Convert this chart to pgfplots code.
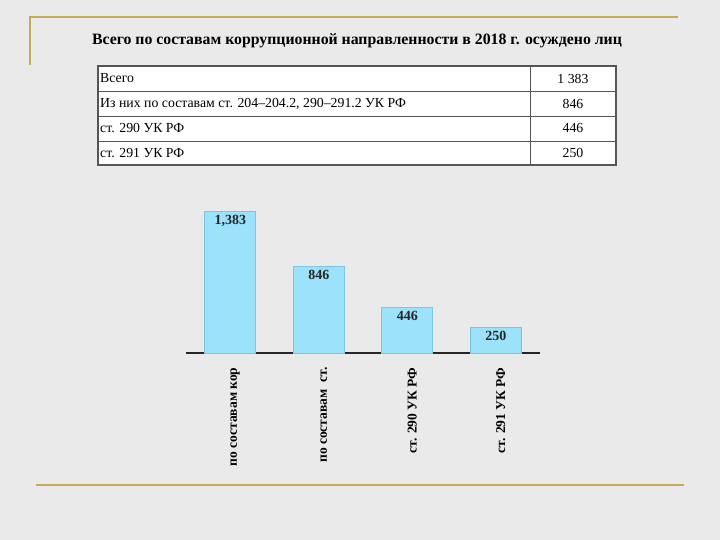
\documentclass[border=0pt]{standalone}
\usepackage{fontspec}
\setmainfont{Liberation Serif}
\usepackage{pgfplots}
\pgfplotsset{compat=1.18}
\definecolor{bg}{HTML}{EAEAEA}
\definecolor{gold}{HTML}{C9A95A}
\definecolor{barblue}{HTML}{9BE2FA}
\definecolor{baredge}{HTML}{7CC6E4}
\definecolor{tabline}{HTML}{555555}
\begin{document}
\begin{tikzpicture}[x=1pt,y=1pt]
\useasboundingbox (0,0) rectangle (720,540);
\fill[bg] (0,0) rectangle (720,540);
% gold decorative lines
\draw[gold, line width=2pt] (30,475) -- (30,523) -- (678,523);
\draw[gold, line width=2.2pt] (36,55) -- (684,55);
% title
\node[font=\bfseries\fontsize{15.8}{18}\selectfont, text=black] at (357,499)
  {Всего по составам коррупционной направленности в 2018 г. осуждено лиц};
% table
\fill[white] (98,375) rectangle (616,474);
\draw[tabline, line width=0.6pt] (98,449) -- (616,449) (98,424) -- (616,424) (98,399) -- (616,399) (530,375) -- (530,474);
\draw[tabline, line width=1.3pt] (98,375) rectangle (616,474);
\begin{scope}[every node/.style={font=\fontsize{13.8}{16}\selectfont, text=black, inner sep=0pt}]
\node[anchor=west] at (100,461.5) {Всего};
\node[anchor=west] at (100,436.5) {Из них по составам ст. 204–204.2, 290–291.2 УК РФ};
\node[anchor=west] at (100,411.5) {ст. 290 УК РФ};
\node[anchor=west] at (100,387) {ст. 291 УК РФ};
\node at (573,461.5) {1 383};
\node at (573,436.5) {846};
\node at (573,411.5) {446};
\node at (573,387) {250};
\end{scope}
% chart
\begin{axis}[
  at={(186pt,187pt)}, anchor=south west,
  scale only axis, width=354pt, height=153.3pt,
  xmin=-0.5, xmax=3.5, ymin=0, ymax=1500,
  axis x line*=bottom, axis y line=none,
  x axis line style={-, draw=black!85, line width=1.1pt},
  xtick={0,1,2,3},
  xticklabels={по составам кор, по составам \ ст., ст. 290 УК РФ, ст. 291 УК РФ},
  xtick style={draw=none},
  major tick length=0pt,
  xticklabel style={rotate=90, anchor=east, font=\bfseries\fontsize{13.5}{15}\selectfont, text=black, yshift=-5pt, xshift=-11pt},
  ybar, bar width=51pt,
  point meta=explicit symbolic,
  nodes near coords,
  every node near coord/.append style={anchor=north, font=\bfseries\fontsize{14}{16}\selectfont, text=black!85, yshift=0pt},
  clip=false,
]
\addplot[fill=barblue, draw=baredge, line width=0.6pt] coordinates {(0,1383)[1,383] (1,846)[846] (2,446)[446] (3,250)[250]};
\end{axis}
\end{tikzpicture}
\end{document}
